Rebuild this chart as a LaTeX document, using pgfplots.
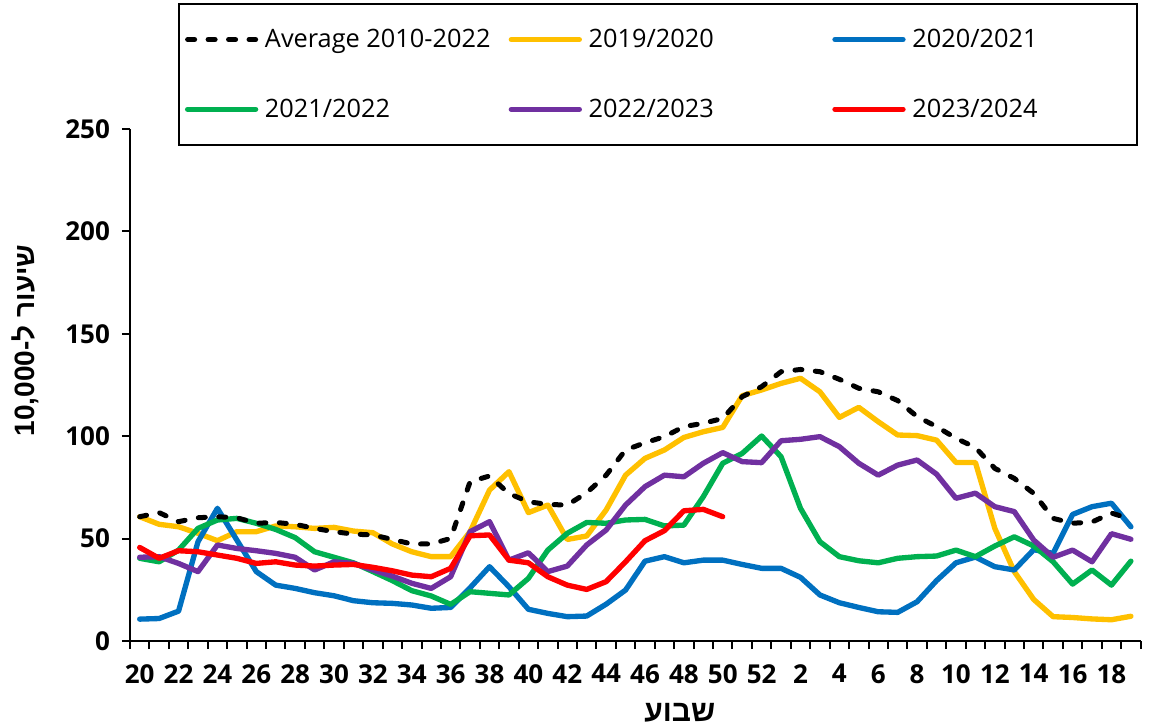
\documentclass[border=0pt]{standalone}
\usepackage{fontspec}
\setmainfont{Open Sans}
\newfontfamily\hebfont[Script=Hebrew]{Liberation Sans}
\TeXXeTstate=1
\usepackage{pgfplots}
\usepackage{pgfplotstable}
\pgfplotsset{compat=1.18}
\definecolor{cyellow}{HTML}{FFC000}
\definecolor{cblue}{HTML}{0070C0}
\definecolor{cgreen}{HTML}{00B050}
\definecolor{cpurple}{HTML}{7030A0}
\definecolor{cred}{HTML}{FF0000}

\pgfplotstableread{
x avg y1920 y2021 y2122 y2223
0 60.7 60.7 10.7 40.4 40.9
1 62.7 57.0 11.0 38.7 41.2
2 58.3 55.8 14.6 44.4 37.9
3 60.2 52.6 48.5 55.0 33.9
4 60.7 49.0 64.8 59.1 46.9
5 60.2 53.4 49.3 59.9 45.2
6 57.5 53.4 33.9 57.5 44.1
7 57.9 56.2 27.3 54.5 42.8
8 57.0 55.8 25.7 50.5 40.9
9 55.0 55.0 23.6 43.6 34.7
10 53.4 55.5 22.1 40.9 38.7
11 52.2 53.7 19.7 38.2 37.9
12 51.8 52.9 18.7 33.9 34.7
13 49.6 47.4 18.4 29.5 31.7
14 47.4 43.6 17.6 24.6 28.2
15 47.4 41.2 16.0 22.0 25.7
16 50.1 41.2 16.4 17.9 31.4
17 77.8 53.4 26.0 24.1 53.4
18 80.6 73.7 36.3 23.3 58.3
19 72.0 82.7 26.5 22.5 39.5
20 68.0 62.7 15.5 30.6 43.1
21 66.7 66.4 13.5 44.4 33.9
22 66.4 49.6 11.9 52.6 36.6
23 72.4 51.3 12.2 57.9 46.9
24 81.0 64.0 18.0 57.5 54.2
25 93.3 81.0 24.9 59.1 66.4
26 96.8 89.2 39.0 59.4 75.4
27 99.8 93.3 41.2 56.2 81.0
28 104.7 99.4 38.2 56.6 80.2
29 106.3 102.2 39.5 70.5 86.8
30 108.7 104.3 39.5 86.8 92.0
31 119.3 119.8 37.4 91.6 87.6
32 124.2 122.6 35.5 100.1 87.1
33 131.5 125.8 35.5 90.0 97.8
34 132.6 128.3 31.1 64.8 98.5
35 131.5 121.7 22.5 48.5 99.8
36 127.8 109.2 18.7 41.2 94.9
37 123.4 114.1 16.4 39.2 86.8
38 121.7 107.1 14.3 38.2 81.0
39 117.4 100.6 14.0 40.4 85.9
40 109.6 100.3 19.2 41.2 88.4
41 104.7 98.1 29.5 41.5 81.5
42 99.0 87.2 38.2 44.4 69.7
43 94.5 87.2 41.0 41.2 72.2
44 84.3 55.0 36.3 46.4 65.6
45 79.4 33.9 34.7 50.9 63.2
46 72.1 20.3 44.6 46.4 49.3
47 59.9 11.9 42.8 38.7 40.9
48 57.5 11.5 61.8 27.8 44.4
49 58.1 10.8 65.6 34.7 38.7
50 62.5 10.4 67.3 27.3 52.4
51 59.5 12.1 55.8 39.0 49.7
}\maindata

\pgfplotstableread{
x y2324
0 45.7
1 40.4
2 44.1
3 43.6
4 42.0
5 40.4
6 37.9
7 38.7
8 37.1
9 36.6
10 37.1
11 37.4
12 36.0
13 34.3
14 32.2
15 31.4
16 35.5
17 51.4
18 51.8
19 39.5
20 38.2
21 31.4
22 27.3
23 25.2
24 29.0
25 38.7
26 49.0
27 53.9
28 63.6
29 64.3
30 60.7
}\reddata

\begin{document}
\begin{tikzpicture}
\begin{axis}[
  width=757.95pt, height=384pt, scale only axis,
  xmin=-0.5, xmax=51.5, ymin=0, ymax=250,
  axis lines=left,
  axis line style={-, line width=1.9pt, black},
  every outer x axis line/.append style={line width=1.9pt},
  every outer y axis line/.append style={line width=1.9pt},
  every inner x axis line/.append style={line width=1.9pt},
  every inner y axis line/.append style={line width=1.9pt},
  ytick={0,50,...,250},
  xtick={0,2,...,50},
  xticklabels={20,22,24,26,28,30,32,34,36,38,40,42,44,46,48,50,52,2,4,6,8,10,12,14,16,18},
  minor xtick={-0.5,0.5,...,51.5},
  tick align=outside,
  major tick length=6pt,
  minor tick length=6pt,
  tick style={line width=1.5pt, black},
  major x tick style={draw=none},
  /pgf/number format/assume math mode=true,
  tick label style={font=\fontsize{19.5}{21}\selectfont\bfseries},
  xticklabel style={yshift=-8pt},
  yticklabel style={xshift=-5.5pt},
  clip=false,
  legend columns=3,
  legend cell align=left,
  legend image code/.code={\draw[#1] (0pt,0pt) -- (51pt,0pt);},
  legend style={at={(0.0475,1.246)}, anchor=north west, draw=black, line width=1.5pt,
    font=\fontsize{19}{22}\selectfont, inner xsep=4.5pt, inner ysep=17pt,
    /tikz/every even column/.append style={column sep=0pt},
    row sep=33pt},
  every axis plot/.append style={line width=4pt, line cap=round, line join=round},
]
\addlegendimage{black, line width=3.75pt, dash pattern=on 5.25pt off 10.1pt, line cap=round}
\addlegendentry{\makebox[183.75pt][l]{\hspace{3pt}Average 2010-2022}}
\addlegendimage{cyellow, line width=4pt, line cap=round}
\addlegendentry{\makebox[183.75pt][l]{\hspace{3pt}2019/2020}}
\addlegendimage{cblue, line width=4pt, line cap=round}
\addlegendentry{\makebox[165pt][l]{\hspace{3pt}2020/2021}}
\addlegendimage{cgreen, line width=4pt, line cap=round}
\addlegendentry{\makebox[183.75pt][l]{\hspace{3pt}2021/2022}}
\addlegendimage{cpurple, line width=4pt, line cap=round}
\addlegendentry{\makebox[183.75pt][l]{\hspace{3pt}2022/2023}}
\addlegendimage{cred, line width=4pt, line cap=round}
\addlegendentry{\makebox[165pt][l]{\hspace{3pt}2023/2024}}

\addplot[cyellow, forget plot] table[x=x, y=y1920] {\maindata};
\addplot[cblue, forget plot] table[x=x, y=y2021] {\maindata};
\addplot[cgreen, forget plot] table[x=x, y=y2122] {\maindata};
\addplot[cpurple, forget plot] table[x=x, y=y2223] {\maindata};
\addplot[cred, forget plot] table[x=x, y=y2324] {\reddata};
\addplot[black, line width=3.75pt, dash pattern=on 5.25pt off 10.1pt, forget plot] table[x=x, y=avg] {\maindata};

\node[rotate=90, font=\hebfont\bfseries\fontsize{21}{24}\selectfont] at (rel axis cs:-0.1036,0.587) {\beginR שיעור ל-\beginL10,000\endL\endR};
\node[font=\hebfont\bfseries\fontsize{22.5}{24}\selectfont] at (rel axis cs:0.544,-0.141) {\beginR שבוע\endR};
\coordinate (bbl) at (rel axis cs:-0.1286,-0.168);
\coordinate (btr) at (rel axis cs:1.0083,1.252);
\end{axis}
\pgfresetboundingbox
\path[use as bounding box] (bbl) rectangle (btr);
\end{tikzpicture}
\end{document}
